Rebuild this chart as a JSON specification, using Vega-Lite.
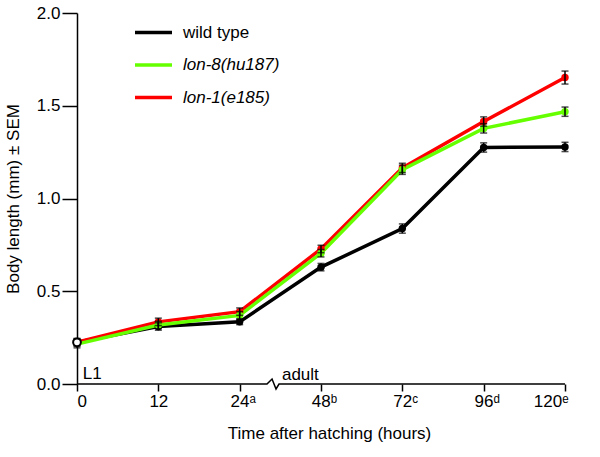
{
  "$schema": "https://vega.github.io/schema/vega-lite/v6.json",
  "width": 488,
  "height": 371,
  "autosize": {"type": "none"},
  "padding": {"left": 77, "top": 13, "right": 35, "bottom": 73},
  "background": "white",
  "config": {
    "view": {"stroke": null},
    "font": "Liberation Sans",
    "axis": {"grid": false, "labelColor": "black", "titleColor": "black", "tickColor": "black", "domainColor": "black", "titleFontWeight": "normal"}
  },
  "datasets": {
    "growth": [
      {"i": 0, "strain": "wild type", "len": 0.225, "sem": 0.02},
      {"i": 1, "strain": "wild type", "len": 0.31, "sem": 0.02},
      {"i": 2, "strain": "wild type", "len": 0.335, "sem": 0.015},
      {"i": 3, "strain": "wild type", "len": 0.63, "sem": 0.02},
      {"i": 4, "strain": "wild type", "len": 0.838, "sem": 0.025},
      {"i": 5, "strain": "wild type", "len": 1.275, "sem": 0.025},
      {"i": 6, "strain": "wild type", "len": 1.278, "sem": 0.025},
      {"i": 0, "strain": "lon-1(e185)", "len": 0.225, "sem": 0.02},
      {"i": 1, "strain": "lon-1(e185)", "len": 0.335, "sem": 0.02},
      {"i": 2, "strain": "lon-1(e185)", "len": 0.39, "sem": 0.02},
      {"i": 3, "strain": "lon-1(e185)", "len": 0.728, "sem": 0.02},
      {"i": 4, "strain": "lon-1(e185)", "len": 1.165, "sem": 0.025},
      {"i": 5, "strain": "lon-1(e185)", "len": 1.415, "sem": 0.025},
      {"i": 6, "strain": "lon-1(e185)", "len": 1.652, "sem": 0.035},
      {"i": 0, "strain": "lon-8(hu187)", "len": 0.215, "sem": 0.02},
      {"i": 1, "strain": "lon-8(hu187)", "len": 0.318, "sem": 0.02},
      {"i": 2, "strain": "lon-8(hu187)", "len": 0.37, "sem": 0.02},
      {"i": 3, "strain": "lon-8(hu187)", "len": 0.705, "sem": 0.02},
      {"i": 4, "strain": "lon-8(hu187)", "len": 1.155, "sem": 0.025},
      {"i": 5, "strain": "lon-8(hu187)", "len": 1.378, "sem": 0.025},
      {"i": 6, "strain": "lon-8(hu187)", "len": 1.468, "sem": 0.025}
    ],
    "axisline": [
      {"k": 0, "bx": 0, "by": 0},
      {"k": 1, "bx": 2.336, "by": 0},
      {"k": 2, "bx": 2.398, "by": 0.027},
      {"k": 3, "bx": 2.447, "by": -0.027},
      {"k": 4, "bx": 2.484, "by": 0},
      {"k": 5, "bx": 6, "by": 0}
    ],
    "notes": [
      {"label": "L1", "nx": 0.07, "ny": 0.025},
      {"label": "adult", "nx": 2.52, "ny": 0.02}
    ]
  },
  "layer": [
    {
      "data": {"name": "axisline"},
      "mark": {"type": "line", "color": "black", "strokeWidth": 1.5, "clip": false},
      "encoding": {
        "x": {"field": "bx", "type": "quantitative", "scale": {"domain": [0, 6], "nice": false},
          "title": "Time after hatching (hours)",
          "axis": {"domain": false, "values": [0, 1, 2, 3, 4, 5, 6], "tickSize": 7, "tickWidth": 1.5,
            "labelExpr": "['0','12','24ᵃ','48ᵇ','72ᶜ','96ᵈ','120ᵉ'][datum.value]",
            "labelFontSize": 17, "labelPadding": 2,
            "labelOffset": {"condition": {"test": "datum.value >= 2", "value": 3}, "value": 0},
            "titleFontSize": 17, "titleX": 252, "titleY": 41, "titleBaseline": "top"}},
        "y": {"field": "by", "type": "quantitative", "scale": {"domain": [0, 2], "nice": false},
          "title": "Body length (mm) ± SEM",
          "axis": {"values": [0, 0.5, 1, 1.5, 2], "format": ".1f", "tickSize": 15, "tickWidth": 1.5, "domainWidth": 1.5,
            "labelFontSize": 17, "labelPadding": 2,
            "titleFontSize": 17, "titleX": -55, "titleY": 185.5}},
        "order": {"field": "k", "type": "quantitative"}
      }
    },
    {
      "data": {"name": "growth"},
      "mark": {"type": "line", "strokeWidth": 3.5},
      "encoding": {
        "x": {"field": "i", "type": "quantitative", "title": "Time after hatching (hours)"},
        "y": {"field": "len", "type": "quantitative", "title": "Body length (mm) ± SEM"},
        "color": {"field": "strain", "type": "nominal",
          "scale": {"domain": ["wild type", "lon-8(hu187)", "lon-1(e185)"], "range": ["#000000", "#66ff00", "#ff0000"]},
          "legend": {"orient": "none", "legendX": 56, "legendY": -1, "title": null, "symbolType": "stroke",
            "symbolSize": 1369, "symbolStrokeWidth": 3.5, "labelFontSize": 17, "labelOffset": 9, "rowPadding": 3.5,
            "labelFontStyle": {"expr": "datum.value == 'wild type' ? 'normal' : 'italic'"}}}
      }
    },
    {
      "data": {"name": "growth"},
      "transform": [{"filter": "datum.i > 0"}],
      "mark": {"type": "point", "filled": true, "size": 55, "opacity": 1, "shape": "circle"},
      "encoding": {
        "x": {"field": "i", "type": "quantitative", "title": "Time after hatching (hours)"},
        "y": {"field": "len", "type": "quantitative", "title": "Body length (mm) ± SEM"},
        "color": {"field": "strain", "type": "nominal", "legend": null}
      }
    },
    {
      "data": {"name": "growth"},
      "mark": {"type": "errorbar", "color": "black", "thickness": 1.5, "ticks": {"size": 7, "thickness": 1.5, "color": "black"}},
      "encoding": {
        "x": {"field": "i", "type": "quantitative", "title": "Time after hatching (hours)"},
        "y": {"field": "len", "type": "quantitative", "title": "Body length (mm) ± SEM"},
        "yError": {"field": "sem"},
        "detail": {"field": "strain"}
      }
    },
    {
      "data": {"name": "growth"},
      "transform": [{"filter": "datum.i == 0 && datum.strain == 'wild type'"}],
      "mark": {"type": "point", "filled": true, "fill": "white", "stroke": "black", "strokeWidth": 2, "size": 60, "opacity": 1, "shape": "circle"},
      "encoding": {
        "x": {"field": "i", "type": "quantitative", "title": "Time after hatching (hours)"},
        "y": {"field": "len", "type": "quantitative", "title": "Body length (mm) ± SEM"}
      }
    },
    {
      "data": {"name": "notes"},
      "mark": {"type": "text", "align": "left", "baseline": "alphabetic", "fontSize": 17, "color": "black", "font": "Liberation Sans"},
      "encoding": {
        "x": {"field": "nx", "type": "quantitative", "title": "Time after hatching (hours)"},
        "y": {"field": "ny", "type": "quantitative", "title": "Body length (mm) ± SEM"},
        "text": {"field": "label"}
      }
    }
  ]
}
